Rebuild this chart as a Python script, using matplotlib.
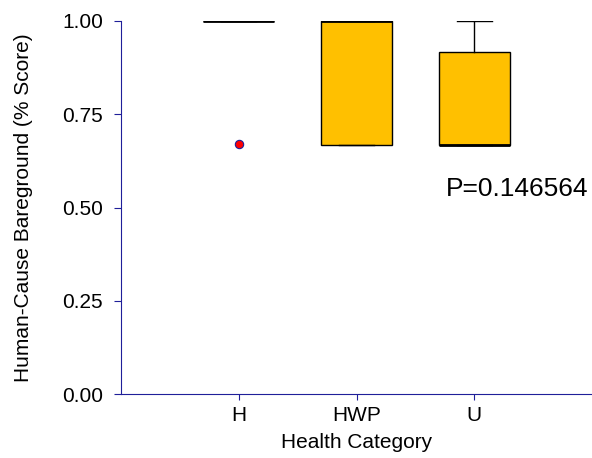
import matplotlib
matplotlib.use('Agg')
from matplotlib import pyplot as plt

plt.rcParams['font.family'] = ['Liberation Sans', 'DejaVu Sans']

categories = ['H', 'HWP', 'U']
q1 = [1.0, 0.667, 0.667]
median = [1.0, 1.0, 0.667]
q3 = [1.0, 1.0, 0.917]
whislo = [1.0, 0.667, 0.667]
whishi = [1.0, 1.0, 1.0]
outliers = [[0.67], [], []]
p_value = 'P=0.146564'

stats = []
for i, name in enumerate(categories):
    stats.append({'label': name, 'q1': q1[i], 'med': median[i], 'q3': q3[i],
                  'whislo': whislo[i], 'whishi': whishi[i], 'fliers': outliers[i]})

fig = plt.figure(figsize=(5.92, 4.58), dpi=100)
ax = fig.add_axes([121 / 592, 64 / 458, 471 / 592, 373 / 458])
navy = '#1f1f99'

ax.bxp(stats, positions=[1, 2, 3], widths=0.6, patch_artist=True,
       boxprops=dict(facecolor='#ffc000', edgecolor='black', linewidth=1),
       medianprops=dict(color='black', linewidth=2),
       whiskerprops=dict(color='black', linewidth=1),
       capprops=dict(color='black', linewidth=1),
       capwidths=0.3,
       flierprops=dict(marker='o', markerfacecolor='red', markeredgecolor=navy,
                       markersize=6, markeredgewidth=0.8))

ax.set_xlim(0, 4.0)
ax.set_ylim(0, 1.0)
ax.set_yticks([0, 0.25, 0.5, 0.75, 1.0])
ax.set_yticklabels(['0.00', '0.25', '0.50', '0.75', '1.00'])
ax.set_xticks([1, 2, 3])
ax.set_xticklabels(categories)

for s in ['top', 'right']:
    ax.spines[s].set_visible(False)
for s in ['left', 'bottom']:
    ax.spines[s].set_color(navy)
ax.tick_params(axis='y', colors=navy, labelcolor='black', labelsize=15,
               direction='out', length=5, pad=7.8)
ax.tick_params(axis='x', colors=navy, labelcolor='black', labelsize=15,
               direction='out', length=4, pad=4.5)

ax.set_xlabel('Health Category', fontsize=15, labelpad=6)
ax.set_ylabel('Human-Cause Bareground (% Score)', fontsize=15, labelpad=21)

ax.text(2.763, 0.531, p_value, fontsize=19, ha='left', va='baseline')

fig.savefig('out.png', dpi=100)
